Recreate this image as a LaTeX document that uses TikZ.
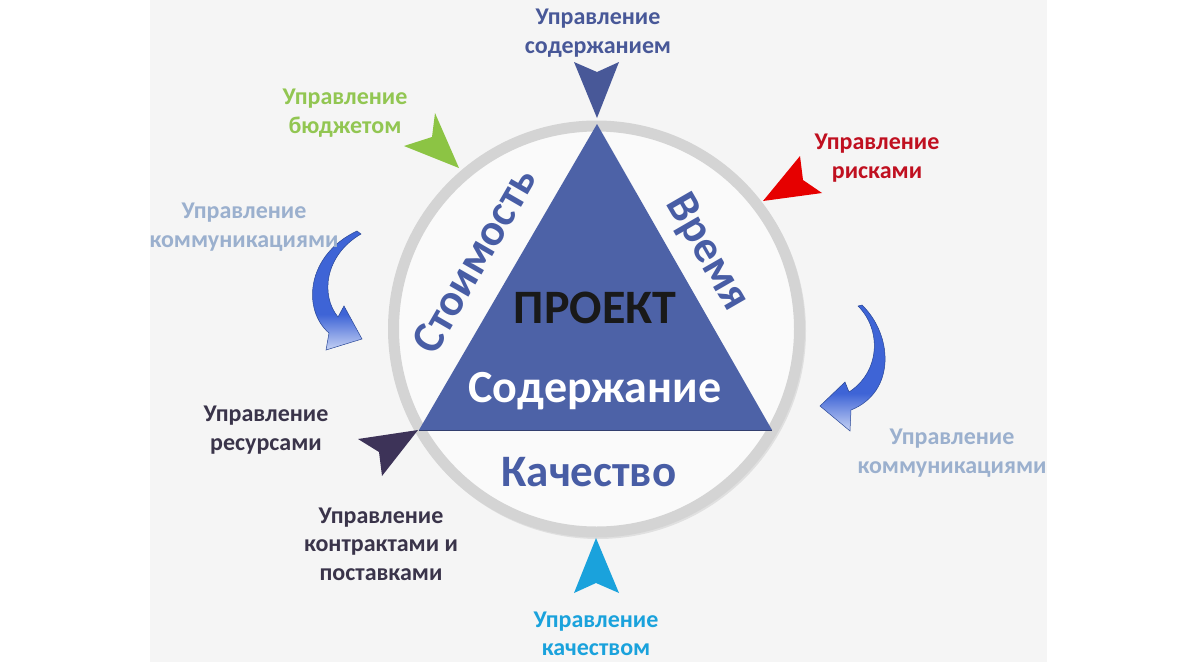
\documentclass[tikz,border=0pt]{standalone}
\usepackage{fontspec}
\setmainfont{Carlito}
\usetikzlibrary{shadings}
\definecolor{bggray}{RGB}{245,245,245}
\definecolor{ringgray}{RGB}{212,212,212}
\definecolor{tri}{RGB}{77,98,167}
\definecolor{triedge}{RGB}{50,62,110}
\definecolor{mainblue}{RGB}{72,93,165}
\definecolor{navy}{RGB}{72,88,152}
\definecolor{lgreen}{RGB}{140,196,68}
\definecolor{tgreen}{RGB}{146,198,82}
\definecolor{rred}{RGB}{230,0,0}
\definecolor{tred}{RGB}{192,16,32}
\definecolor{comm}{RGB}{155,176,206}
\definecolor{dark}{RGB}{61,51,88}
\definecolor{tdark}{RGB}{58,52,74}
\definecolor{cyanc}{RGB}{26,162,220}
\definecolor{arrblue}{RGB}{62,100,214}
\definecolor{arrlight}{RGB}{225,232,250}
\definecolor{arredge}{RGB}{40,70,150}
\pgfdeclareverticalshading{arrsh}{100bp}{color(0bp)=(arrlight); color(22bp)=(arrlight); color(40bp)=(arrblue); color(100bp)=(arrblue)}
\tikzset{
  lbl/.style={align=center, font=\fontsize{24}{28.5}\selectfont\bfseries, inner sep=0pt},
  big/.style={font=\fontsize{48}{48}\selectfont\bfseries, inner sep=0pt},
  side/.style={font=\fontsize{45}{45}\selectfont\bfseries, text=mainblue, inner sep=0pt},
  curvearr/.style={shading=arrsh, draw=arredge, line width=0.5pt}
}
\begin{document}
\begin{tikzpicture}[x=1pt,y=-1pt]
\useasboundingbox (0,0) rectangle (1200,662);
\fill[white] (0,0) rectangle (1200,662);
\fill[bggray] (150,0) rectangle (1047,662);
% ring
\fill[black!12] (598,331) circle (208);
\fill[white!98!black] (596.5,329) circle (203);
\draw[ringgray, line width=11pt] (596.5,329) circle (203);
% triangle
\coordinate (A) at (597,124);
\coordinate (B) at (419,430);
\coordinate (C) at (772,430);
\fill[tri] (A) -- (B) -- (C) -- cycle;
\draw[triedge, line width=1pt] (B) -- (C);
% central texts
\node[big, text=black!90] (proj) at (595,308) {ПРОЕКТ};
\node[big, font=\fontsize{46}{46}\selectfont\bfseries, text=white] (sod) at (595,391) {Содержание};
\node[side] (kach) at (589,472) {Качество};
\node[side, rotate=60] (stoim) at (474,260) {Стоимость};
\node[side, rotate=-60] (vrem) at (707,253) {Время};
% arrowheads
\fill[navy] (574,62) -- (597,72) -- (619,62) -- (597,118) -- cycle;
\fill[lgreen] (435,113) -- (432,137) -- (404,146) -- (459,168) -- cycle;
\fill[rred] (800,156) -- (803,180) -- (822,193) -- (763,201) -- cycle;
\fill[dark] (418,430) -- (358,439) -- (379,452) -- (382,476) -- cycle;
\fill[cyanc] (596,538) -- (574,593) -- (596,583) -- (619,593) -- cycle;
% curved arrows
\path[curvearr] (357,231) .. controls (306,255) and (302,310) .. (329,333)
  -- (326,350) -- (362,339) -- (344,306) -- (338,317)
  .. controls (320,295) and (325,255) .. (361,234) -- cycle;
\path[curvearr] (858,306) .. controls (882,330) and (880,372) .. (849,392)
  -- (845,382) -- (820,406) -- (850,431) -- (851,410)
  .. controls (896,392) and (893,335) .. (862,305) -- cycle;
% labels
\node[lbl, text=navy] (l1) at (598,33) {Управление\\содержанием};
\node[lbl, text=tgreen] (l2) at (345,113) {Управление\\бюджетом};
\node[lbl, text=tred] (l3) at (877,158) {Управление\\рисками};
\node[lbl, text=comm] (l4) at (244,227) {Управление\\коммуникациями};
\node[lbl, text=comm] (l5) at (952,453) {Управление\\коммуникациями};
\node[lbl, text=tdark] (l6) at (266,430) {Управление\\ресурсами};
\node[lbl, text=tdark] (l7) at (381,544) {Управление\\контрактами и\\поставками};
\node[lbl, text=cyanc] (l8) at (596,634) {Управление\\качеством};
\end{tikzpicture}
\end{document}
